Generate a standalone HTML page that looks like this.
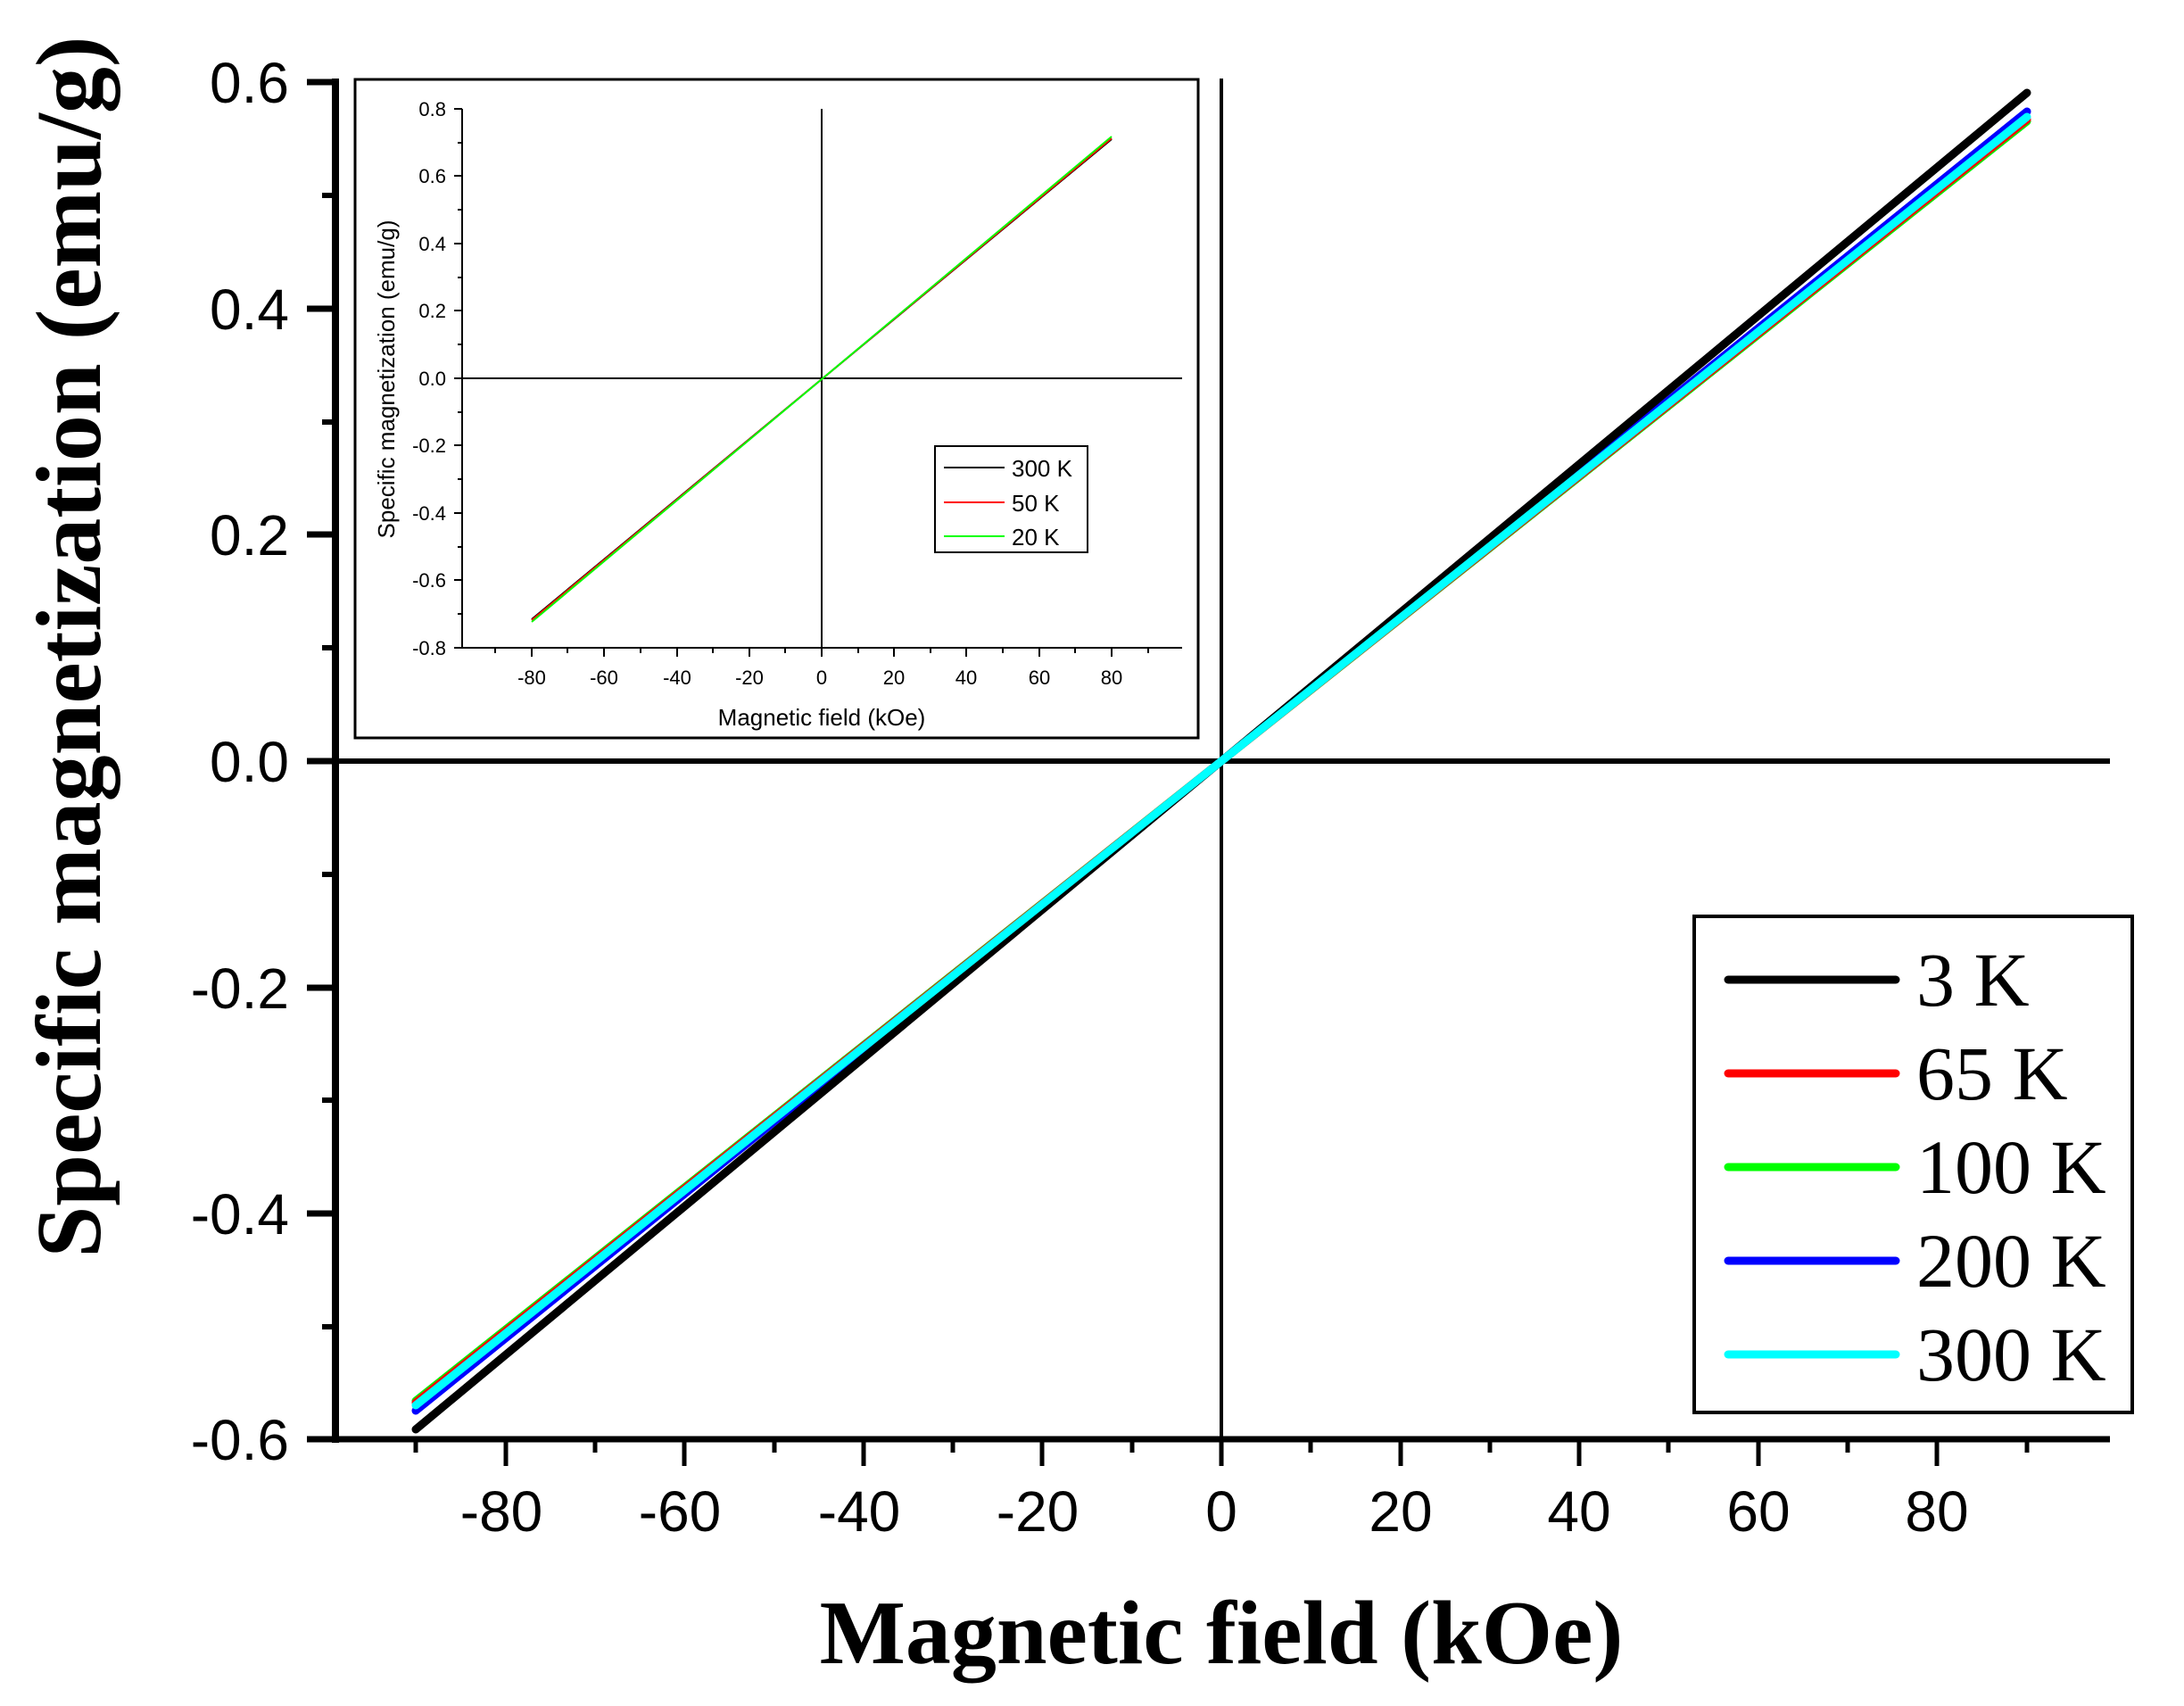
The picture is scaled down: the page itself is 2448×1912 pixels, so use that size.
<!DOCTYPE html>
<html><head><meta charset="utf-8"><style>html,body{margin:0;padding:0;background:#fff}svg{display:block}</style></head>
<body>
<svg width="2448" height="1912" viewBox="0 0 2448 1912" xmlns="http://www.w3.org/2000/svg">
<rect width="2448" height="1912" fill="#fff"/>
<g stroke="#000" fill="none">
<line x1="376" y1="88" x2="376" y2="1617" stroke-width="8"/>
<line x1="345" y1="1613" x2="2365" y2="1613" stroke-width="7"/>
<line x1="345" y1="853" x2="2365" y2="853" stroke-width="6"/>
<line x1="1369" y1="88" x2="1369" y2="1613" stroke-width="4"/>
<g stroke-width="7">
<line x1="344" y1="92" x2="376" y2="92"/><line x1="344" y1="346" x2="376" y2="346"/><line x1="344" y1="599" x2="376" y2="599"/><line x1="344" y1="853" x2="376" y2="853"/><line x1="344" y1="1107" x2="376" y2="1107"/><line x1="344" y1="1360" x2="376" y2="1360"/><line x1="344" y1="1613" x2="376" y2="1613"/>
</g>
<g stroke-width="6">
<line x1="361" y1="219" x2="376" y2="219"/><line x1="361" y1="473" x2="376" y2="473"/><line x1="361" y1="726" x2="376" y2="726"/><line x1="361" y1="980" x2="376" y2="980"/><line x1="361" y1="1233" x2="376" y2="1233"/><line x1="361" y1="1487" x2="376" y2="1487"/>
</g>
<g stroke-width="5">
<line x1="567" y1="1613" x2="567" y2="1643"/><line x1="767" y1="1613" x2="767" y2="1643"/><line x1="968" y1="1613" x2="968" y2="1643"/><line x1="1168" y1="1613" x2="1168" y2="1643"/><line x1="1369" y1="1613" x2="1369" y2="1643"/><line x1="1570" y1="1613" x2="1570" y2="1643"/><line x1="1770" y1="1613" x2="1770" y2="1643"/><line x1="1971" y1="1613" x2="1971" y2="1643"/><line x1="2171" y1="1613" x2="2171" y2="1643"/>
<line x1="466" y1="1613" x2="466" y2="1628"/><line x1="667" y1="1613" x2="667" y2="1628"/><line x1="868" y1="1613" x2="868" y2="1628"/><line x1="1068" y1="1613" x2="1068" y2="1628"/><line x1="1269" y1="1613" x2="1269" y2="1628"/><line x1="1469" y1="1613" x2="1469" y2="1628"/><line x1="1670" y1="1613" x2="1670" y2="1628"/><line x1="1870" y1="1613" x2="1870" y2="1628"/><line x1="2071" y1="1613" x2="2071" y2="1628"/><line x1="2272" y1="1613" x2="2272" y2="1628"/>
</g>
</g>
<g font-family="Liberation Sans, sans-serif" font-size="64" fill="#000" text-anchor="end">
<text x="324" y="115">0.6</text><text x="324" y="369">0.4</text><text x="324" y="622">0.2</text><text x="324" y="876">0.0</text><text x="324" y="1130">-0.2</text><text x="324" y="1383">-0.4</text><text x="324" y="1636">-0.6</text>
</g>
<g font-family="Liberation Sans, sans-serif" font-size="64" fill="#000" text-anchor="middle">
<text x="562" y="1716">-80</text><text x="762" y="1716">-60</text><text x="963" y="1716">-40</text><text x="1163" y="1716">-20</text><text x="1369" y="1716">0</text><text x="1570" y="1716">20</text><text x="1770" y="1716">40</text><text x="1971" y="1716">60</text><text x="2171" y="1716">80</text>
</g>
<text x="1369" y="1864" font-family="Liberation Serif, serif" font-weight="bold" font-size="102" text-anchor="middle">Magnetic field (kOe)</text>
<text transform="translate(112,725) rotate(-90)" font-family="Liberation Serif, serif" font-weight="bold" font-size="104" text-anchor="middle">Specific magnetization (emu/g)</text>
<g stroke-linecap="round" stroke-width="9" fill="none">
<line x1="466" y1="1570" x2="2272" y2="136" stroke="#00ff00"/>
<line x1="466" y1="1572" x2="2272" y2="134" stroke="#ff0000"/>
<line x1="466" y1="1581" x2="2272" y2="125" stroke="#0000ff"/>
<line x1="466" y1="1602" x2="2272" y2="104" stroke="#000"/>
<line x1="466" y1="1575" x2="2272" y2="131" stroke="#00ffff"/>
</g>
<rect x="1899" y="1027" width="491" height="556" fill="#fff" stroke="#000" stroke-width="4"/>
<g stroke-linecap="round" stroke-width="9">
<line x1="1937" y1="1098" x2="2125" y2="1098" stroke="#000"/>
<line x1="1937" y1="1203" x2="2125" y2="1203" stroke="#ff0000"/>
<line x1="1937" y1="1308" x2="2125" y2="1308" stroke="#00ff00"/>
<line x1="1937" y1="1413" x2="2125" y2="1413" stroke="#0000ff"/>
<line x1="1937" y1="1518" x2="2125" y2="1518" stroke="#00ffff"/>
</g>
<g font-family="Liberation Serif, serif" font-size="86" fill="#000">
<text x="2148" y="1127">3 K</text><text x="2148" y="1232">65 K</text><text x="2148" y="1337">100 K</text><text x="2148" y="1442">200 K</text><text x="2148" y="1547">300 K</text>
</g>
<rect x="398" y="89" width="945" height="738" fill="#fff" stroke="#000" stroke-width="3"/>
<g stroke="#000" fill="none" stroke-width="2">
<line x1="518" y1="122" x2="518" y2="727"/>
<line x1="518" y1="726" x2="1325" y2="726"/>
<line x1="518" y1="424" x2="1325" y2="424"/>
<line x1="921" y1="122" x2="921" y2="726"/>
<line x1="509" y1="122" x2="518" y2="122"/><line x1="509" y1="197" x2="518" y2="197"/><line x1="509" y1="273" x2="518" y2="273"/><line x1="509" y1="348" x2="518" y2="348"/><line x1="509" y1="424" x2="518" y2="424"/><line x1="509" y1="499" x2="518" y2="499"/><line x1="509" y1="575" x2="518" y2="575"/><line x1="509" y1="650" x2="518" y2="650"/><line x1="509" y1="726" x2="518" y2="726"/>
<line x1="513" y1="160" x2="518" y2="160"/><line x1="513" y1="235" x2="518" y2="235"/><line x1="513" y1="311" x2="518" y2="311"/><line x1="513" y1="386" x2="518" y2="386"/><line x1="513" y1="462" x2="518" y2="462"/><line x1="513" y1="537" x2="518" y2="537"/><line x1="513" y1="613" x2="518" y2="613"/><line x1="513" y1="688" x2="518" y2="688"/>
<line x1="596" y1="726" x2="596" y2="736"/><line x1="677" y1="726" x2="677" y2="736"/><line x1="759" y1="726" x2="759" y2="736"/><line x1="840" y1="726" x2="840" y2="736"/><line x1="921" y1="726" x2="921" y2="736"/><line x1="1002" y1="726" x2="1002" y2="736"/><line x1="1083" y1="726" x2="1083" y2="736"/><line x1="1165" y1="726" x2="1165" y2="736"/><line x1="1246" y1="726" x2="1246" y2="736"/>
<line x1="555" y1="726" x2="555" y2="732"/><line x1="636" y1="726" x2="636" y2="732"/><line x1="718" y1="726" x2="718" y2="732"/><line x1="799" y1="726" x2="799" y2="732"/><line x1="880" y1="726" x2="880" y2="732"/><line x1="962" y1="726" x2="962" y2="732"/><line x1="1043" y1="726" x2="1043" y2="732"/><line x1="1124" y1="726" x2="1124" y2="732"/><line x1="1205" y1="726" x2="1205" y2="732"/><line x1="1287" y1="726" x2="1287" y2="732"/>
</g>
<g font-family="Liberation Sans, sans-serif" font-size="22" fill="#000" text-anchor="end">
<text x="500" y="130">0.8</text><text x="500" y="205">0.6</text><text x="500" y="281">0.4</text><text x="500" y="356">0.2</text><text x="500" y="432">0.0</text><text x="500" y="507">-0.2</text><text x="500" y="583">-0.4</text><text x="500" y="658">-0.6</text><text x="500" y="734">-0.8</text>
</g>
<g font-family="Liberation Sans, sans-serif" font-size="22" fill="#000" text-anchor="middle">
<text x="596" y="767">-80</text><text x="677" y="767">-60</text><text x="759" y="767">-40</text><text x="840" y="767">-20</text><text x="921" y="767">0</text><text x="1002" y="767">20</text><text x="1083" y="767">40</text><text x="1165" y="767">60</text><text x="1246" y="767">80</text>
</g>
<text x="921" y="813" font-family="Liberation Sans, sans-serif" font-size="26" text-anchor="middle">Magnetic field (kOe)</text>
<text transform="translate(442,425) rotate(-90)" font-family="Liberation Sans, sans-serif" font-size="26" text-anchor="middle">Specific magnetization (emu/g)</text>
<g stroke-width="2" fill="none">
<line x1="596" y1="694" x2="1246" y2="156" stroke="#000"/>
<line x1="596" y1="695" x2="1246" y2="155" stroke="#ff0000"/>
<line x1="596" y1="697" x2="1246" y2="153" stroke="#00ff00"/>
</g>
<rect x="1048" y="500" width="171" height="119" fill="#fff" stroke="#000" stroke-width="2"/>
<line x1="1058" y1="524" x2="1126" y2="524" stroke="#000" stroke-width="2"/>
<line x1="1058" y1="563" x2="1126" y2="563" stroke="#ff0000" stroke-width="2"/>
<line x1="1058" y1="601" x2="1126" y2="601" stroke="#00ff00" stroke-width="2"/>
<g font-family="Liberation Sans, sans-serif" font-size="26" fill="#000">
<text x="1134" y="534">300 K</text><text x="1134" y="573">50 K</text><text x="1134" y="611">20 K</text>
</g>
</svg>
</body></html>
